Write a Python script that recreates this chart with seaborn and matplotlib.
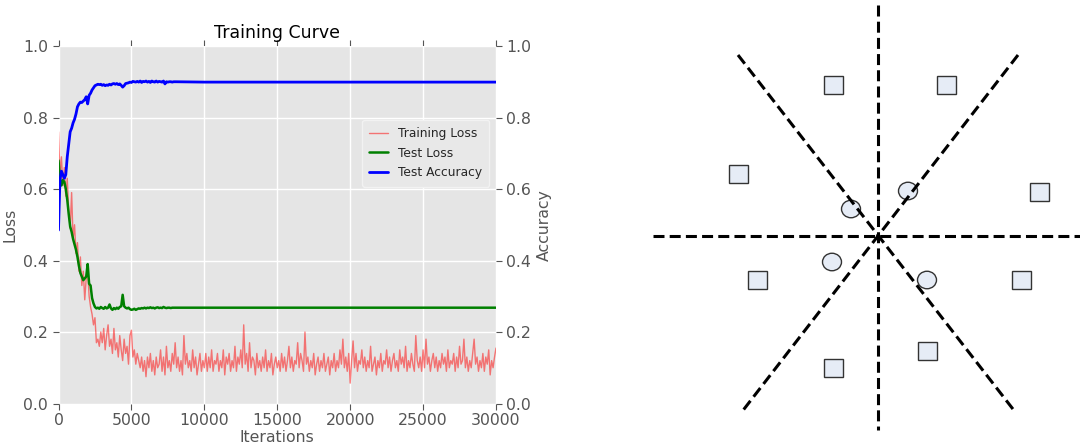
import numpy as np
import pandas as pd
import matplotlib
matplotlib.use('Agg')
import matplotlib.pyplot as plt
from matplotlib.patches import Rectangle, Ellipse
import seaborn as sns

# Training loss, one value every 100 iterations (0 .. 30000)
train_loss = [
    0.76, 0.64, 0.69, 0.61, 0.66, 0.58, 0.63, 0.54, 0.49, 0.59,
    0.46, 0.50, 0.42, 0.45, 0.37, 0.41, 0.33, 0.37, 0.29, 0.35,
    0.37, 0.30, 0.27, 0.25, 0.22, 0.24, 0.17, 0.18, 0.16, 0.20,
    0.17, 0.21, 0.15, 0.19, 0.22, 0.16, 0.18, 0.14, 0.21, 0.15,
    0.17, 0.13, 0.19, 0.15, 0.12, 0.18, 0.14, 0.16, 0.11, 0.19,
    0.205, 0.13, 0.15, 0.11, 0.14, 0.12, 0.10, 0.13, 0.09, 0.12,
    0.075, 0.13, 0.10, 0.14, 0.09, 0.12, 0.08, 0.13, 0.10, 0.11,
    0.15, 0.09, 0.13, 0.08, 0.16, 0.10, 0.12, 0.09, 0.14, 0.11,
    0.17, 0.10, 0.13, 0.09, 0.12, 0.08, 0.19, 0.11, 0.14, 0.10,
    0.12, 0.09, 0.15, 0.10, 0.13, 0.08, 0.11, 0.14, 0.09, 0.12,
    0.10, 0.14, 0.09, 0.13, 0.10, 0.15, 0.09, 0.12, 0.11, 0.14,
    0.09, 0.12, 0.10, 0.15, 0.08, 0.13, 0.11, 0.14, 0.09, 0.12,
    0.10, 0.16, 0.09, 0.13, 0.11, 0.15, 0.10, 0.22, 0.11, 0.14,
    0.09, 0.17, 0.10, 0.13, 0.12, 0.08, 0.14, 0.10, 0.12, 0.09,
    0.13, 0.10, 0.15, 0.09, 0.12, 0.10, 0.14, 0.08, 0.11, 0.13,
    0.10, 0.12, 0.09, 0.14, 0.10, 0.13, 0.09, 0.12, 0.16, 0.10,
    0.13, 0.09, 0.12, 0.11, 0.17, 0.10, 0.14, 0.12, 0.09, 0.20,
    0.11, 0.13, 0.09, 0.12, 0.10, 0.14, 0.08, 0.11, 0.13, 0.09,
    0.12, 0.10, 0.14, 0.09, 0.11, 0.13, 0.08, 0.12, 0.10, 0.14,
    0.09, 0.12, 0.10, 0.15, 0.11, 0.18, 0.10, 0.13, 0.09, 0.14,
    0.057, 0.12, 0.175, 0.10, 0.14, 0.09, 0.12, 0.11, 0.15, 0.10,
    0.13, 0.09, 0.12, 0.10, 0.16, 0.09, 0.11, 0.13, 0.08, 0.12,
    0.10, 0.14, 0.09, 0.12, 0.11, 0.15, 0.10, 0.13, 0.09, 0.12,
    0.14, 0.10, 0.12, 0.09, 0.15, 0.11, 0.13, 0.10, 0.16, 0.09,
    0.12, 0.10, 0.14, 0.11, 0.09, 0.19, 0.12, 0.10, 0.13, 0.09,
    0.15, 0.10, 0.18, 0.11, 0.13, 0.09, 0.12, 0.14, 0.10, 0.13,
    0.09, 0.12, 0.10, 0.14, 0.11, 0.13, 0.09, 0.15, 0.10, 0.12,
    0.11, 0.14, 0.09, 0.13, 0.10, 0.16, 0.11, 0.12, 0.18, 0.10,
    0.13, 0.09, 0.12, 0.10, 0.14, 0.18, 0.11, 0.13, 0.09, 0.12,
    0.10, 0.14, 0.09, 0.13, 0.11, 0.15, 0.08, 0.12, 0.10, 0.13,
    0.155,
]

# Test loss / accuracy, every 100 iterations up to 8000, then flat
test_loss = [
    0.68, 0.63, 0.61, 0.625, 0.62, 0.60, 0.57, 0.53, 0.495, 0.48,
    0.46, 0.445, 0.43, 0.41, 0.385, 0.365, 0.355, 0.345, 0.35, 0.355,
    0.39, 0.335, 0.33, 0.295, 0.28, 0.27, 0.266, 0.268, 0.265, 0.27,
    0.267, 0.265, 0.27, 0.266, 0.268, 0.277, 0.266, 0.262, 0.267, 0.264,
    0.268, 0.265, 0.27, 0.272, 0.304, 0.272, 0.268, 0.266, 0.268, 0.264,
    0.262, 0.263, 0.265, 0.262, 0.264, 0.266, 0.265, 0.267, 0.266, 0.268,
    0.266, 0.268, 0.267, 0.269, 0.267, 0.268, 0.266, 0.268, 0.269, 0.267,
    0.268, 0.267, 0.27, 0.268, 0.267, 0.268, 0.268, 0.267, 0.268, 0.268,
    0.268,
]
test_acc = [
    0.485, 0.625, 0.65, 0.64, 0.63, 0.64, 0.69, 0.725, 0.76, 0.77,
    0.785, 0.795, 0.81, 0.83, 0.838, 0.843, 0.842, 0.846, 0.85, 0.858,
    0.838, 0.862, 0.868, 0.877, 0.883, 0.889, 0.891, 0.893, 0.892, 0.893,
    0.89, 0.892, 0.889, 0.891, 0.89, 0.893, 0.891, 0.894, 0.895, 0.893,
    0.895, 0.892, 0.894, 0.89, 0.885, 0.889, 0.895, 0.896, 0.897, 0.899,
    0.898, 0.901, 0.9, 0.899, 0.901, 0.899, 0.902, 0.898, 0.901, 0.9,
    0.902, 0.899, 0.901, 0.898, 0.902, 0.9, 0.899, 0.902, 0.899, 0.901,
    0.9, 0.899, 0.902, 0.894, 0.9, 0.899, 0.9, 0.9, 0.899, 0.9,
    0.9,
]
late_iters = [10000, 15000, 20000, 25000, 30000]
late_test_loss = [0.268, 0.268, 0.268, 0.268, 0.268]
late_test_acc = [0.899, 0.899, 0.899, 0.899, 0.899]

# Diagram on the right (pixel-like coordinates, y grows downwards)
line_x0 = [878, 653, 738, 1018]
line_y0 = [5, 236, 55, 55]
line_x1 = [878, 1080, 1016, 741]
line_y1 = [430, 236, 413, 413]
square_x = [833, 946, 738, 1039, 757, 1021, 833, 927]
square_y = [85, 85, 174, 192, 280, 280, 368, 351]
circle_x = [851, 908, 832, 927]
circle_y = [209, 191, 262, 280]

step = 100
train_df = pd.DataFrame({'iter': np.arange(len(train_loss)) * step, 'loss': train_loss})
test_df = pd.DataFrame({
    'iter': np.concatenate([np.arange(len(test_loss)) * step, late_iters]),
    'loss': test_loss + late_test_loss,
    'acc': test_acc + late_test_acc,
})

sns.set_theme(style='darkgrid', rc={
    'axes.facecolor': '#E5E5E5',
    'grid.color': 'white',
    'grid.linewidth': 1.0,
    'xtick.color': '#555555',
    'ytick.color': '#555555',
    'axes.labelcolor': '#555555',
})
plt.rcParams['font.family'] = ['DejaVu Sans']

fig = plt.figure(figsize=(10.8, 4.48), dpi=100)
ax = fig.add_axes([58.5 / 1080, 1 - 403.5 / 448, 437.5 / 1080, 357.5 / 448])
ax2 = ax.twinx()

sns.lineplot(data=train_df, x='iter', y='loss', ax=ax, color='red', alpha=0.5,
             linewidth=1.0, label='Training Loss')
sns.lineplot(data=test_df, x='iter', y='loss', ax=ax, color='green',
             linewidth=1.8, label='Test Loss')
sns.lineplot(data=test_df, x='iter', y='acc', ax=ax2, color='blue',
             linewidth=2.0, label='Test Accuracy')

for a in (ax, ax2):
    a.set_ylim(0, 1)
    a.set_xlim(0, 30000)
    a.set_yticks([0.0, 0.2, 0.4, 0.6, 0.8, 1.0])
    a.set_yticklabels(['0.0', '0.2', '0.4', '0.6', '0.8', '1.0'])
    for s in a.spines.values():
        s.set_visible(False)
ax.set_xticks([0, 5000, 10000, 15000, 20000, 25000, 30000])
ax2.grid(False)

ax.tick_params(axis='x', bottom=True, top=True, direction='out', length=4,
               width=0.8, color='#555555', labelsize=11.3, pad=3)
ax.tick_params(axis='y', left=True, direction='out', length=4,
               width=0.8, color='#555555', labelsize=11.3)
ax2.tick_params(axis='y', right=True, direction='out', length=4,
                width=0.8, color='#555555', labelsize=11.3)

ax.set_xlabel('Iterations', fontsize=11.3, labelpad=1)
ax.set_ylabel('Loss', fontsize=11.3)
ax2.set_ylabel('Accuracy', fontsize=11.3)
ax.set_title('Training Curve', fontsize=12.5, color='black', pad=6)

h1, l1 = ax.get_legend_handles_labels()
h2, l2 = ax2.get_legend_handles_labels()
if ax.get_legend() is not None:
    ax.get_legend().remove()
leg = ax2.legend(h1 + h2, l1 + l2, loc='center right', bbox_to_anchor=(0.998, 0.70),
                 fontsize=8.8, frameon=True, facecolor='#E8E8E8', edgecolor='#F2F2F2',
                 framealpha=1.0, handlelength=1.5, borderpad=0.6, labelspacing=0.55)

# right-hand diagram
dax = fig.add_axes([620 / 1080, 0, 460 / 1080, 1])
dax.set_xlim(620, 1080)
dax.set_ylim(448, 0)
dax.axis('off')

for x, y in zip(square_x, square_y):
    dax.add_patch(Rectangle((x - 9.5, y - 9), 19, 18, facecolor='#E6ECF6',
                            edgecolor='#333333', linewidth=1.0, zorder=1))
for x, y in zip(circle_x, circle_y):
    dax.add_patch(Ellipse((x, y), 19, 17.5, facecolor='#E6ECF6',
                          edgecolor='#333333', linewidth=1.0, zorder=1))
for x0, y0, x1, y1 in zip(line_x0, line_y0, line_x1, line_y1):
    dax.plot([x0, x1], [y0, y1], color='black', linewidth=2.2,
             linestyle=(0, (3.6, 1.7)), zorder=2, solid_capstyle='butt')

fig.savefig('out.png', dpi=100)
